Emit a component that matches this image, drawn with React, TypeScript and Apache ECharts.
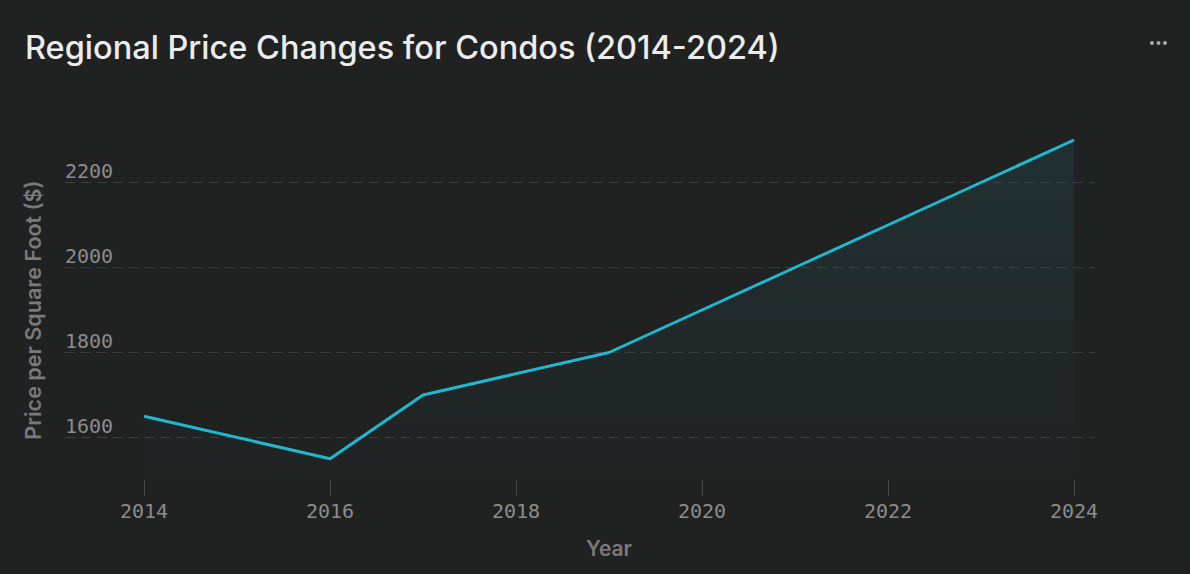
import React, { useEffect, useRef } from "react";
import * as echarts from "echarts";

const years = [2014, 2016, 2017, 2019, 2020, 2021, 2022, 2023, 2024];
const prices = [1650, 1550, 1700, 1800, 1900, 2000, 2100, 2200, 2300];
const xTicks = [2014, 2016, 2018, 2020, 2022, 2024];
const yTicks = [1600, 1800, 2000, 2200];

const titleText = "Regional Price Changes for Condos (2014-2024)";
const xName = "Year";
const yName = "Price per Square Foot ($)";

export default function App() {
  const ref = useRef<HTMLDivElement>(null);
  useEffect(() => {
    document.body.style.margin = "0";
    const chart = echarts.init(ref.current!, null, { renderer: "svg" });
    const mono = "'DejaVu Sans Mono', monospace";
    const sans = "Inter, 'Noto Sans', sans-serif";
    chart.setOption({
      animation: false,
      backgroundColor: "#202121",
      title: {
        text: titleText,
        left: 20,
        top: 26,
        textStyle: {
          color: "#ececec",
          fontSize: 32.5,
          fontWeight: 500,
          fontFamily: sans,
        },
      },
      graphic: [
        { type: "circle", shape: { cx: 1152, cy: 43, r: 2 }, style: { fill: "#a8a8a8" } },
        { type: "circle", shape: { cx: 1158.5, cy: 43, r: 2 }, style: { fill: "#a8a8a8" } },
        { type: "circle", shape: { cx: 1165, cy: 43, r: 2 }, style: { fill: "#a8a8a8" } },
      ],
      grid: { left: 65, right: 95, top: 140, bottom: 94 },
      xAxis: {
        type: "value",
        min: 2013.15,
        max: 2024.226,
        name: xName,
        nameLocation: "middle",
        nameGap: 58,
        nameTextStyle: {
          color: "#7a7a7a",
          fontSize: 21,
          fontWeight: 600,
          fontFamily: sans,
          padding: [0, 0, 0, 58],
        },
        axisLine: { show: false },
        axisTick: {
          show: true,
          length: 16,
          customValues: xTicks,
          lineStyle: { color: "#454646", width: 1 },
        },
        axisLabel: {
          customValues: xTicks,
          formatter: (v: number) => String(v),
          margin: 21,
          color: "#8c8c8c",
          fontSize: 20,
          fontFamily: mono,
        },
        splitLine: { show: false },
      },
      yAxis: {
        type: "value",
        min: 1500,
        max: 2300,
        name: yName,
        nameLocation: "middle",
        nameGap: 21,
        nameTextStyle: {
          color: "#7a7a7a",
          fontSize: 21.5,
          fontWeight: 600,
          fontFamily: sans,
        },
        axisLine: { show: false },
        axisTick: { show: false, customValues: yTicks },
        axisLabel: {
          customValues: yTicks,
          formatter: (v: number) => String(v),
          inside: true,
          margin: 0,
          verticalAlign: "bottom",
          padding: [0, 0, 2, 0],
          color: "#8c8c8c",
          fontSize: 20,
          fontFamily: mono,
        },
        splitLine: {
          show: true,
          lineStyle: { color: "#3c3d3d", type: [10, 6], width: 1 },
        },
      },
      series: [
        {
          type: "line",
          data: years.map((y, i) => [y, prices[i]]),
          showSymbol: false,
          symbol: "none",
          lineStyle: { color: "#20b8cf", width: 3 },
          areaStyle: {
            color: new echarts.graphic.LinearGradient(0, 0, 0, 1, [
              { offset: 0, color: "rgba(32,184,207,0.15)" },
              { offset: 1, color: "rgba(32,184,207,0.01)" },
            ]),
          },
        },
      ],
    });
    return () => chart.dispose();
  }, []);
  return <div ref={ref} style={{ width: 1190, height: 574 }} />;
}
